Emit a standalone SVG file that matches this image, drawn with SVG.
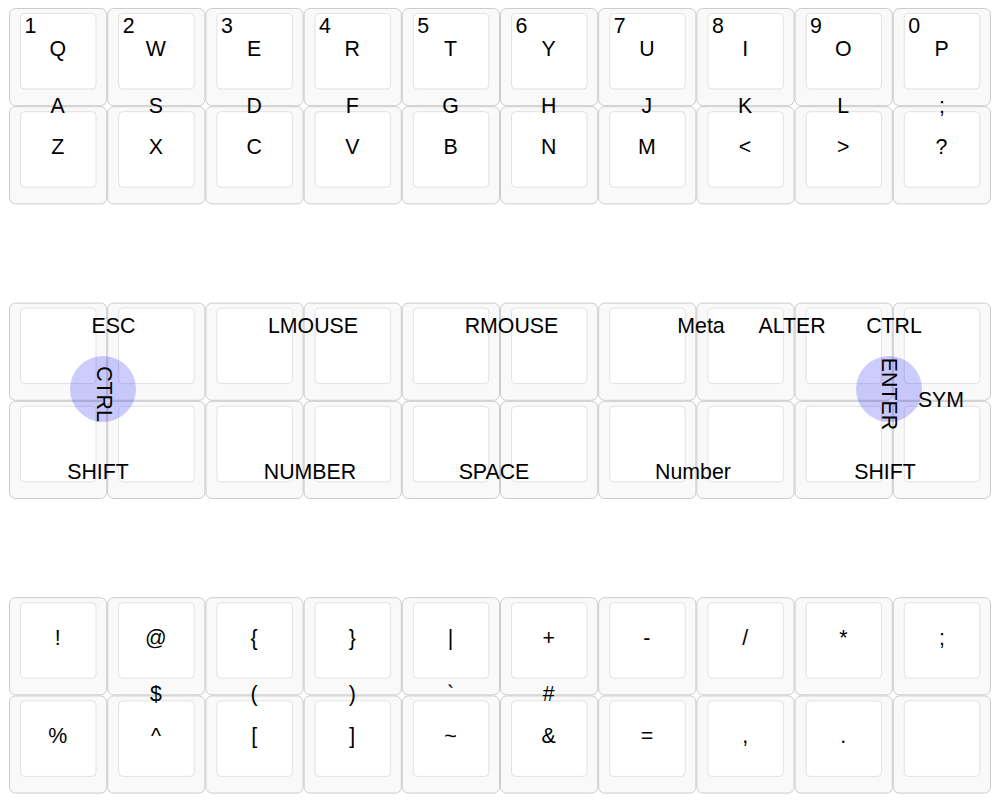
<svg xmlns="http://www.w3.org/2000/svg" width="998" height="801" viewBox="0 0 998 801">
<style>
.o{fill:#f9f9f9;stroke:#cccccc;stroke-width:1}
.i{fill:#ffffff;stroke:#e2e2e2;stroke-width:1}
text{font-family:"Liberation Sans",Arial,sans-serif;font-size:21.33px;fill:#000}
.c{text-anchor:middle}
.h{fill:#0000ff;fill-opacity:0.2}
</style>
<defs>
<g id="key"><rect class="o" x="0" y="0" width="97.2" height="97.2" rx="6"/><rect class="i" x="11" y="5" width="75.5" height="75.5" rx="4"/></g>
</defs>
<rect width="998" height="801" fill="#fff"/>
<g id="top-block">
<g id="k-q"><use href="#key" x="9.5" y="8.5"/><text x="24.5" y="33">1</text><text class="c" x="57.7" y="56">Q</text></g>
<g id="k-w"><use href="#key" x="107.7" y="8.5"/><text x="122.7" y="33">2</text><text class="c" x="155.9" y="56">W</text></g>
<g id="k-e"><use href="#key" x="205.9" y="8.5"/><text x="220.9" y="33">3</text><text class="c" x="254.1" y="56">E</text></g>
<g id="k-r"><use href="#key" x="304.1" y="8.5"/><text x="319.1" y="33">4</text><text class="c" x="352.3" y="56">R</text></g>
<g id="k-t"><use href="#key" x="402.3" y="8.5"/><text x="417.3" y="33">5</text><text class="c" x="450.5" y="56">T</text></g>
<g id="k-y"><use href="#key" x="500.5" y="8.5"/><text x="515.5" y="33">6</text><text class="c" x="548.7" y="56">Y</text></g>
<g id="k-u"><use href="#key" x="598.7" y="8.5"/><text x="613.7" y="33">7</text><text class="c" x="646.9" y="56">U</text></g>
<g id="k-i"><use href="#key" x="696.9" y="8.5"/><text x="711.9" y="33">8</text><text class="c" x="745.1" y="56">I</text></g>
<g id="k-o"><use href="#key" x="795.1" y="8.5"/><text x="810.1" y="33">9</text><text class="c" x="843.3" y="56">O</text></g>
<g id="k-p"><use href="#key" x="893.3" y="8.5"/><text x="908.3" y="33">0</text><text class="c" x="941.5" y="56">P</text></g>
<g id="k-z"><use href="#key" x="9.5" y="106.7"/><text class="c" x="57.7" y="154.2">Z</text></g>
<g id="k-x"><use href="#key" x="107.7" y="106.7"/><text class="c" x="155.9" y="154.2">X</text></g>
<g id="k-c"><use href="#key" x="205.9" y="106.7"/><text class="c" x="254.1" y="154.2">C</text></g>
<g id="k-v"><use href="#key" x="304.1" y="106.7"/><text class="c" x="352.3" y="154.2">V</text></g>
<g id="k-b"><use href="#key" x="402.3" y="106.7"/><text class="c" x="450.5" y="154.2">B</text></g>
<g id="k-n"><use href="#key" x="500.5" y="106.7"/><text class="c" x="548.7" y="154.2">N</text></g>
<g id="k-m"><use href="#key" x="598.7" y="106.7"/><text class="c" x="646.9" y="154.2">M</text></g>
<g id="k-lt"><use href="#key" x="696.9" y="106.7"/><text class="c" x="745.1" y="154.2">&lt;</text></g>
<g id="k-gt"><use href="#key" x="795.1" y="106.7"/><text class="c" x="843.3" y="154.2">&gt;</text></g>
<g id="k-qm"><use href="#key" x="893.3" y="106.7"/><text class="c" x="941.5" y="154.2">?</text></g>
<g id="mid-labels">
<text class="c" x="57.7" y="113.2">A</text><text class="c" x="155.9" y="113.2">S</text><text class="c" x="254.1" y="113.2">D</text><text class="c" x="352.3" y="113.2">F</text><text class="c" x="450.5" y="113.2">G</text><text class="c" x="548.7" y="113.2">H</text><text class="c" x="646.9" y="113.2">J</text><text class="c" x="745.1" y="113.2">K</text><text class="c" x="843.3" y="113.2">L</text><text class="c" x="942" y="113.2">;</text>
</g>
</g>
<g id="middle-block">
<g id="m00"><use href="#key" x="9.5" y="303.1"/></g>
<g id="m01"><use href="#key" x="107.7" y="303.1"/></g>
<g id="m02"><use href="#key" x="205.9" y="303.1"/></g>
<g id="m03"><use href="#key" x="304.1" y="303.1"/></g>
<g id="m04"><use href="#key" x="402.3" y="303.1"/></g>
<g id="m05"><use href="#key" x="500.5" y="303.1"/></g>
<g id="m06"><use href="#key" x="598.7" y="303.1"/></g>
<g id="m07"><use href="#key" x="696.9" y="303.1"/></g>
<g id="m08"><use href="#key" x="795.1" y="303.1"/></g>
<g id="m09"><use href="#key" x="893.3" y="303.1"/></g>
<g id="m10"><use href="#key" x="9.5" y="401.3"/></g>
<g id="m11"><use href="#key" x="107.7" y="401.3"/></g>
<g id="m12"><use href="#key" x="205.9" y="401.3"/></g>
<g id="m13"><use href="#key" x="304.1" y="401.3"/></g>
<g id="m14"><use href="#key" x="402.3" y="401.3"/></g>
<g id="m15"><use href="#key" x="500.5" y="401.3"/></g>
<g id="m16"><use href="#key" x="598.7" y="401.3"/></g>
<g id="m17"><use href="#key" x="696.9" y="401.3"/></g>
<g id="m18"><use href="#key" x="795.1" y="401.3"/></g>
<g id="m19"><use href="#key" x="893.3" y="401.3"/></g>
<g id="labels">
<text class="c" x="113.5" y="333">ESC</text>
<text class="c" x="313" y="333">LMOUSE</text>
<text class="c" x="511.5" y="333">RMOUSE</text>
<text class="c" x="701" y="333">Meta</text>
<text class="c" x="792" y="333">ALTER</text>
<text class="c" x="894" y="333">CTRL</text>
<text class="c" x="941" y="407">SYM</text>
<text class="c" x="98" y="479">SHIFT</text>
<text class="c" x="310" y="479">NUMBER</text>
<text class="c" x="494" y="479">SPACE</text>
<text class="c" x="693" y="479">Number</text>
<text class="c" x="885" y="479">SHIFT</text>
</g>
<g id="hold-ctrl"><circle class="h" cx="103" cy="389" r="33"/><text class="c" transform="translate(96.5,394) rotate(90)">CTRL</text></g>
<g id="hold-enter"><circle class="h" cx="889" cy="389" r="33"/><text class="c" transform="translate(882,394) rotate(90)">ENTER</text></g>
</g>
<g id="bottom-block">
<g id="s-excl"><use href="#key" x="9.5" y="597.7"/><text class="c" x="57.7" y="644.7">!</text></g>
<g id="s-at"><use href="#key" x="107.7" y="597.7"/><text class="c" x="155.9" y="644.7">@</text></g>
<g id="s-lbrace"><use href="#key" x="205.9" y="597.7"/><text class="c" x="254.1" y="644.7">{</text></g>
<g id="s-rbrace"><use href="#key" x="304.1" y="597.7"/><text class="c" x="352.3" y="644.7">}</text></g>
<g id="s-pipe"><use href="#key" x="402.3" y="597.7"/><text class="c" x="450.5" y="644.7">|</text></g>
<g id="s-plus"><use href="#key" x="500.5" y="597.7"/><text class="c" x="548.7" y="644.7">+</text></g>
<g id="s-minus"><use href="#key" x="598.7" y="597.7"/><text class="c" x="646.9" y="644.7">-</text></g>
<g id="s-slash"><use href="#key" x="696.9" y="597.7"/><text class="c" x="745.1" y="644.7">/</text></g>
<g id="s-star"><use href="#key" x="795.1" y="597.7"/><text class="c" x="843.3" y="644.7">*</text></g>
<g id="s-semi"><use href="#key" x="893.3" y="597.7"/><text class="c" x="942" y="644.7">;</text></g>
<g id="s-pct"><use href="#key" x="9.5" y="695.9"/><text class="c" x="57.7" y="742.9">%</text></g>
<g id="s-caret"><use href="#key" x="107.7" y="695.9"/><text class="c" x="155.9" y="742.9">^</text></g>
<g id="s-lbrack"><use href="#key" x="205.9" y="695.9"/><text class="c" x="254.1" y="742.9">[</text></g>
<g id="s-rbrack"><use href="#key" x="304.1" y="695.9"/><text class="c" x="352.3" y="742.9">]</text></g>
<g id="s-tilde"><use href="#key" x="402.3" y="695.9"/><text class="c" x="450.5" y="742.9">~</text></g>
<g id="s-amp"><use href="#key" x="500.5" y="695.9"/><text class="c" x="548.7" y="742.9">&amp;</text></g>
<g id="s-eq"><use href="#key" x="598.7" y="695.9"/><text class="c" x="646.9" y="742.9">=</text></g>
<g id="s-comma"><use href="#key" x="696.9" y="695.9"/><text class="c" x="745.1" y="742.9">,</text></g>
<g id="s-dot"><use href="#key" x="795.1" y="695.9"/><text class="c" x="843.3" y="742.9">.</text></g>
<g id="s-empty"><use href="#key" x="893.3" y="695.9"/></g>
<g id="sym-mid-labels">
<text class="c" x="155.9" y="701.4">$</text><text class="c" x="254.1" y="701.4">(</text><text class="c" x="352.3" y="701.4">)</text><text class="c" x="450.5" y="701.4">`</text><text class="c" x="548.7" y="701.4">#</text>
</g>
</g>
<g id="connectors"/>
</svg>
